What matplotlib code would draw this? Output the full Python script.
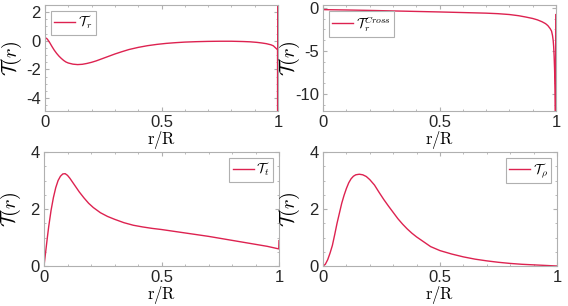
import numpy as np
import matplotlib
matplotlib.use("Agg")
import matplotlib.pyplot as plt
from matplotlib.ticker import MultipleLocator

plt.rcParams['font.family'] = ['Liberation Sans', 'DejaVu Sans']
plt.rcParams['mathtext.fontset'] = 'cm'

# ---- data ----
r_tr = [0.0, 0.01, 0.02, 0.03, 0.04, 0.05, 0.06, 0.07, 0.08, 0.09, 0.10, 0.12, 0.14, 0.16, 0.18, 0.20,
        0.22, 0.24, 0.26, 0.28, 0.30, 0.33, 0.36, 0.40, 0.44, 0.48, 0.52, 0.56, 0.60, 0.65, 0.70, 0.75,
        0.80, 0.85, 0.88, 0.91, 0.93, 0.95, 0.97, 0.98, 0.99, 0.995, 0.998, 0.9985, 0.999]
T_r = [0.24, 0.12, -0.12, -0.4, -0.66, -0.88, -1.07, -1.23, -1.37, -1.48, -1.55, -1.63, -1.66, -1.64, -1.58, -1.50,
       -1.40, -1.28, -1.16, -1.04, -0.92, -0.76, -0.61, -0.46, -0.34, -0.25, -0.18, -0.13, -0.09, -0.06, -0.04, -0.03,
       -0.03, -0.05, -0.07, -0.11, -0.15, -0.2, -0.28, -0.35, -0.5, -0.58, -0.62, -8.0, 8.0]

r_cross = [0.0, 0.1, 0.2, 0.3, 0.4, 0.5, 0.6, 0.7, 0.75, 0.8, 0.84, 0.87, 0.9, 0.92, 0.94, 0.955, 0.965,
           0.975, 0.981, 0.985, 0.988, 0.990, 0.992, 0.994, 0.996, 0.997, 0.998, 0.999]
T_cross = [-0.19, -0.23, -0.28, -0.34, -0.4, -0.46, -0.53, -0.6, -0.66, -0.76, -0.9, -1.05, -1.22, -1.38, -1.6, -1.82, -2.05,
           -2.4, -2.7, -3.2, -3.8, -4.5, -5.6, -7.2, -9.5, -11.85, -13.0, -0.77]

r_t = [0.0, 0.005, 0.01, 0.015, 0.02, 0.03, 0.04, 0.05, 0.06, 0.07, 0.08, 0.09, 0.1, 0.11, 0.12, 0.13,
       0.15, 0.17, 0.19, 0.21, 0.24, 0.27, 0.3, 0.34, 0.38, 0.42, 0.46, 0.5, 0.55, 0.6, 0.65, 0.7,
       0.75, 0.8, 0.85, 0.9, 0.95, 0.999, 1.0]
T_t = [0.0, 0.35, 0.7, 1.05, 1.38, 1.95, 2.4, 2.75, 3.0, 3.15, 3.23, 3.24, 3.18, 3.08, 2.96, 2.84,
       2.6, 2.39, 2.2, 2.05, 1.87, 1.74, 1.64, 1.52, 1.43, 1.37, 1.32, 1.28, 1.22, 1.16, 1.1, 1.04,
       0.97, 0.9, 0.83, 0.76, 0.69, 0.6, 0.89]

r_rho = [0.0, 0.01, 0.02, 0.03, 0.04, 0.05, 0.06, 0.07, 0.08, 0.09, 0.1, 0.11, 0.12, 0.13, 0.14, 0.155,
         0.17, 0.185, 0.2, 0.22, 0.24, 0.26, 0.28, 0.3, 0.32, 0.34, 0.36, 0.38, 0.4, 0.43, 0.46, 0.5,
         0.55, 0.6, 0.65, 0.7, 0.75, 0.8, 0.85, 0.9, 0.95, 1.0]
T_rho = [0.0, 0.06, 0.22, 0.45, 0.72, 1.1, 1.5, 1.85, 2.2, 2.48, 2.72, 2.92, 3.06, 3.15, 3.2, 3.22,
         3.2, 3.14, 3.03, 2.84, 2.58, 2.33, 2.1, 1.88, 1.66, 1.47, 1.3, 1.15, 1.02, 0.85, 0.68, 0.54,
         0.42, 0.32, 0.24, 0.18, 0.13, 0.09, 0.06, 0.04, 0.02, 0.0]

labels = [r'$\mathcal{T}_r$', r'$\mathcal{T}_r^{Cross}$', r'$\mathcal{T}_t$', r'$\mathcal{T}_\rho$']
color = '#dd2250'

W, H = 568, 306
fig = plt.figure(figsize=(W / 100, H / 100), dpi=100)

def add_ax(l, r, t, b):
    return fig.add_axes([l / W, 1 - b / H, (r - l) / W, (b - t) / H])

boxes = [(45, 278, 5, 111), (323, 556, 5, 111), (44, 279, 152, 266), (323, 557, 152, 266)]
series = [(r_tr, T_r), (r_cross, T_cross), (r_t, T_t), (r_rho, T_rho)]
ylims = [(-4.9, 2.5), (-12, 0.35), (0, 4), (0, 4)]
yticks = [[-4, -2, 0, 2], [-10, -5, 0], [0, 2, 4], [0, 2, 4]]
yminor = [0.5, 1.25, 0.5, 0.5]
locs = ['upper left', 'upper left', 'upper right', 'upper right']

for i in range(4):
    l, r, t, b = boxes[i]
    ax = add_ax(l, r, t, b)
    x, y = series[i]
    ax.plot(x, y, color=color, lw=1.0, label=labels[i])
    ax.set_xlim(0, 1)
    ax.set_ylim(*ylims[i])
    ax.set_xticks([0, 0.5, 1])
    ax.set_xticklabels(['0', '0.5', '1'])
    ax.set_yticks(yticks[i])
    ax.set_yticklabels([str(v) for v in yticks[i]])
    ax.xaxis.set_minor_locator(MultipleLocator(0.1))
    ax.yaxis.set_minor_locator(MultipleLocator(yminor[i]))
    ax.tick_params(which='both', direction='in', top=True, right=True, color='#b0b0b0',
                   labelsize=12, labelcolor='#262626', pad=3)
    ax.tick_params(which='major', length=3)
    ax.tick_params(which='minor', length=1.5)
    for s in ax.spines.values():
        s.set_color('#b0b0b0')
        s.set_linewidth(0.8)
    ax.set_xlabel(r'$\mathrm{r/R}$', fontsize=12)
    ax.xaxis.set_label_coords(0.5, -18 / (b - t))
    ax.set_ylabel(r'$\mathcal{T}(r)$', fontsize=14.5)
    ax.yaxis.set_label_coords(-21 / (r - l), 0.5)
    leg = ax.legend(loc=locs[i], fontsize=10, handlelength=1.5, handletextpad=0.2,
                    borderpad=0.25, borderaxespad=0.4, fancybox=False, framealpha=1)
    leg.get_frame().set_edgecolor('#b0b0b0')
    leg.get_frame().set_linewidth(0.8)

fig.savefig('out.png', dpi=100)
